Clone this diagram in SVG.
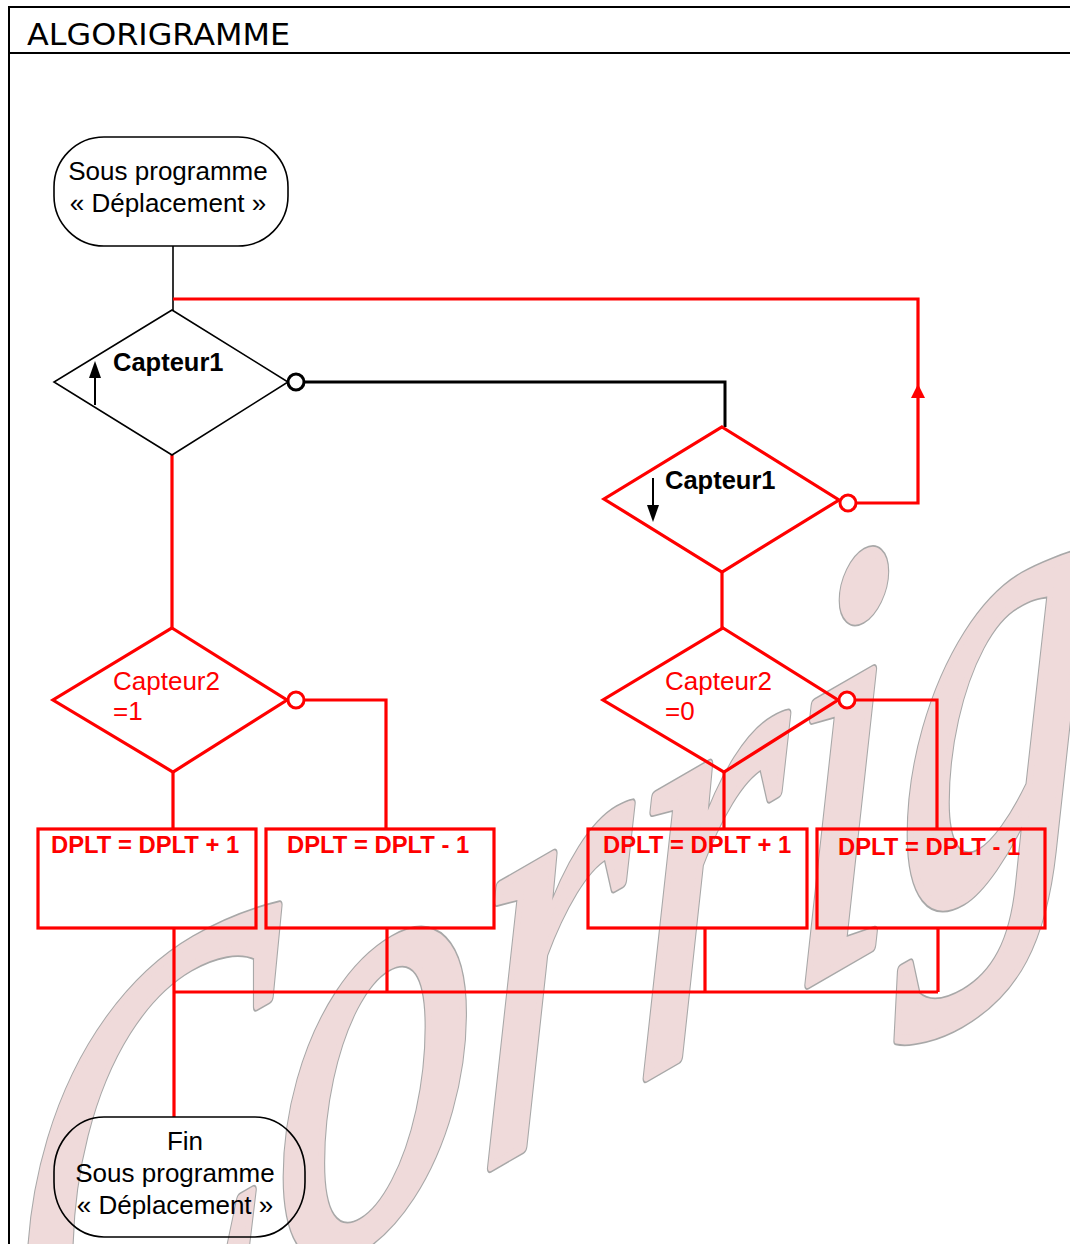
<svg xmlns="http://www.w3.org/2000/svg" width="1070" height="1244" viewBox="0 0 1070 1244">
  <defs>
    <style>
      .frame { stroke: #000; stroke-width: 2; fill: none; }
      .blk { stroke: #000; stroke-width: 1.6; fill: none; }
      .blkw { stroke: #000; stroke-width: 3; fill: none; }
      .red { stroke: #ff0000; stroke-width: 3.2; fill: none; }
      .term { stroke: #000; stroke-width: 1.6; fill: none; }
      .t { font-family: "Liberation Sans", Arial, sans-serif; font-size: 26px; fill: #000; }
      .tb { font-family: "Liberation Sans", Arial, sans-serif; font-size: 25.5px; font-weight: bold; fill: #000; }
      .tr { font-family: "Liberation Sans", Arial, sans-serif; font-size: 26px; fill: #ff0000; }
      .trb { font-family: "Liberation Sans", Arial, sans-serif; font-size: 23.8px; font-weight: bold; fill: #ff0000; }
      .wm { font-family: "Liberation Serif", "Times New Roman", serif; font-style: italic; font-size: 400px; vector-effect: non-scaling-stroke; }
      .wmOut { fill: #a8a8a8; stroke: #a8a8a8; stroke-width: 11; stroke-linejoin: round; }
      .wmIn { fill: #efdada; stroke: #efdada; stroke-width: 8; stroke-linejoin: round; }
    </style>
    <text id="wmText" class="wm" x="8" y="0" transform="skewY(-30) translate(0,1450) scale(1,1.5)">Corrig</text>
  </defs>

  <rect width="1070" height="1244" fill="#fff"/>

  <!-- watermark -->
  <g id="watermark">
    <use href="#wmText" class="wmOut"/>
    <use href="#wmText" class="wmIn"/>
  </g>

  <!-- frame -->
  <g id="frame">
    <path class="frame" d="M9,7 L1070,7 M9,53 L1070,53 M9,6 L9,1244"/>
    <text x="27" y="45" font-family="'Comic Sans MS', 'DejaVu Sans', sans-serif" font-size="30" textLength="263" lengthAdjust="spacingAndGlyphs">ALGORIGRAMME</text>
  </g>

  <!-- connectors -->
  <g id="connectors">
    <path class="blk" d="M173,246 L173,310"/>
    <path class="red" d="M173,299 L918,299 L918,503 L856,503"/>
    <polygon points="918,384 911,398 925,398" fill="#ff0000"/>
    <path class="blkw" d="M304,382 L725,382 L725,427"/>
    <path class="red" d="M172,455 L172,628"/>
    <path class="red" d="M722,572 L722,628"/>
    <path class="red" d="M304,700 L386,700 L386,829"/>
    <path class="red" d="M173,772 L173,829"/>
    <path class="red" d="M855,700 L937,700 L937,829"/>
    <path class="red" d="M724,772 L724,829"/>
    <path class="red" d="M174,928 L174,1117 M174,992 L938,992 M387,928 L387,992 M705,928 L705,992 M938,928 L938,992"/>
  </g>

  <!-- nodes -->
  <g id="start">
    <rect class="term" x="54" y="137" width="234" height="109" rx="50" ry="50"/>
    <text class="t" x="168" y="180" text-anchor="middle">Sous programme</text>
    <text class="t" x="168" y="212" text-anchor="middle">«  Déplacement  »</text>
  </g>

  <g id="capteur1-up">
    <polygon class="blk" points="172,310 288,382 172,455 54,382"/>
    <circle cx="296" cy="382" r="8" fill="#fff" stroke="#000" stroke-width="3"/>
    <path d="M95,405 L95,375" stroke="#000" stroke-width="2"/>
    <path d="M89,378 L95,361 L101,378 Z" fill="#000"/>
    <text class="tb" x="113" y="371">Capteur1</text>
  </g>

  <g id="capteur1-down">
    <polygon class="red" points="722,427 839,500 722,572 604,499"/>
    <circle cx="848" cy="503" r="8" fill="#fff" stroke="#ff0000" stroke-width="3"/>
    <path d="M653,478 L653,508" stroke="#000" stroke-width="2"/>
    <path d="M647,505 L653,522 L659,505 Z" fill="#000"/>
    <text class="tb" x="665" y="489">Capteur1</text>
  </g>

  <g id="capteur2-1">
    <polygon class="red" points="172,628 287,700 173,772 53,700"/>
    <circle cx="296" cy="700" r="8" fill="#fff" stroke="#ff0000" stroke-width="3"/>
    <text class="tr" x="113" y="690">Capteur2</text>
    <text class="tr" x="113" y="720">=1</text>
  </g>

  <g id="capteur2-0">
    <polygon class="red" points="723,628 838,700 724,772 603,700"/>
    <circle cx="847" cy="700" r="8" fill="#fff" stroke="#ff0000" stroke-width="3"/>
    <text class="tr" x="665" y="690">Capteur2</text>
    <text class="tr" x="665" y="720">=0</text>
  </g>

  <g id="box1">
    <rect class="red" x="38" y="829" width="218" height="99"/>
    <text class="trb" x="51" y="853">DPLT = DPLT + 1</text>
  </g>
  <g id="box2">
    <rect class="red" x="266" y="829" width="228" height="99"/>
    <text class="trb" x="287" y="853">DPLT = DPLT - 1</text>
  </g>
  <g id="box3">
    <rect class="red" x="588" y="829" width="219" height="99"/>
    <text class="trb" x="603" y="853">DPLT = DPLT + 1</text>
  </g>
  <g id="box4">
    <rect class="red" x="817" y="829" width="228" height="99"/>
    <text class="trb" x="838" y="855">DPLT = DPLT - 1</text>
  </g>

  <g id="end">
    <rect class="term" x="54" y="1117" width="251" height="120" rx="50" ry="55"/>
    <text class="t" x="185" y="1150" text-anchor="middle">Fin</text>
    <text class="t" x="175" y="1182" text-anchor="middle">Sous programme</text>
    <text class="t" x="175" y="1214" text-anchor="middle">«  Déplacement  »</text>
  </g>
</svg>
